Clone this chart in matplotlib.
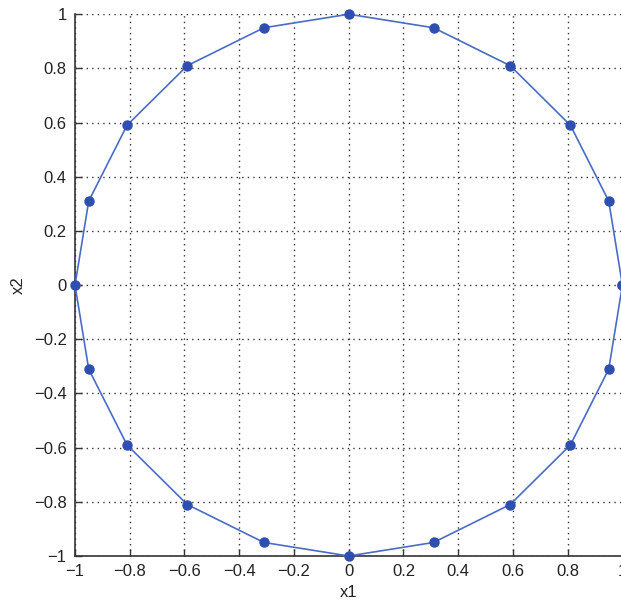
import matplotlib
matplotlib.use('Agg')
import matplotlib.pyplot as plt
import numpy as np

plt.rcParams['font.family'] = ['Liberation Sans', 'DejaVu Sans']

# points on the unit circle (closed loop)
x1 = [1.0, 0.95, 0.81, 0.59, 0.31, 0.0, -0.31, -0.59, -0.81, -0.95, -1.0,
      -0.95, -0.81, -0.59, -0.31, 0.0, 0.31, 0.59, 0.81, 0.95, 1.0]
x2 = [0.0, 0.31, 0.59, 0.81, 0.95, 1.0, 0.95, 0.81, 0.59, 0.31, 0.0,
      -0.31, -0.59, -0.81, -0.95, -1.0, -0.95, -0.81, -0.59, -0.31, 0.0]

ticks = [-1, -0.8, -0.6, -0.4, -0.2, 0, 0.2, 0.4, 0.6, 0.8, 1]
tick_labels = ['\u22121', '\u22120.8', '\u22120.6', '\u22120.4', '\u22120.2', '0',
               '0.2', '0.4', '0.6', '0.8', '1']

fig = plt.figure(figsize=(6.21, 6.05), dpi=100)
ax = fig.add_axes([0.1208, 0.081, 0.8815, 0.8955])

ax.plot(x1, x2, color='#4a6cc4', linewidth=1.2, marker='o',
        markersize=6.5, markerfacecolor='#2f4fb0', markeredgecolor='#2f4fb0',
        clip_on=False, zorder=3)

ax.set_xlim(-1, 1)
ax.set_ylim(-1, 1)
ax.set_xticks(ticks)
ax.set_yticks(ticks)
ax.set_xticklabels(tick_labels, fontsize=12, color='#222222')
ax.set_yticklabels(tick_labels, fontsize=12, color='#222222')
ax.tick_params(direction='in', length=5, width=1, color='#333333', pad=6)

ax.grid(True, linestyle=(0, (1, 3)), color='#333333', linewidth=1)
ax.set_axisbelow(True)

ax.spines['top'].set_visible(False)
ax.spines['right'].set_visible(False)
ax.spines['left'].set_color('#333333')
ax.spines['bottom'].set_color('#333333')
ax.spines['left'].set_linewidth(1.2)
ax.spines['bottom'].set_linewidth(1.2)

ax.set_xlabel('x1', fontsize=12, color='#222222', labelpad=4)
ax.set_ylabel('x2', fontsize=12, color='#222222', labelpad=6)

fig.savefig('out.png', dpi=100)
